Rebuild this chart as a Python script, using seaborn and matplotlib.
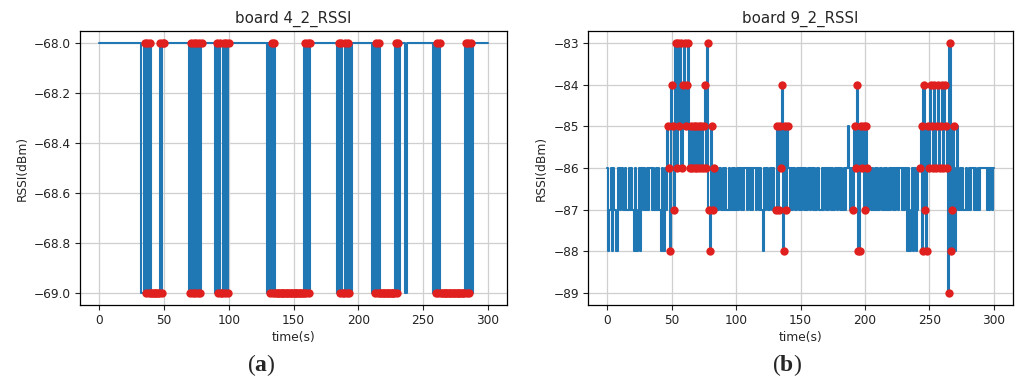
import numpy as np
import pandas as pd
import matplotlib
matplotlib.use("Agg")
import matplotlib.pyplot as plt
import seaborn as sns

# One RSSI reading per second (t = 0..300 s).
# Each character is the last digit of |RSSI|; the tens part is given by the offset.
board4_offset = 60
board4_digits = [
    "8888888888" "8888888888" "8888888888" "8889989898" "9999999898",
    "8888888888" "8888888888" "9898989898" "8888888888" "9898998989",
    "8888888888" "8888888888" "8888888888" "9898989999" "9999999999",
    "9999999998" "9898888888" "8888888888" "8888989899" "8989898888",
    "8888888888" "8989898999" "9999999998" "9898888988" "8888888888",
    "8888888898" "9898999999" "9999999999" "9998989898" "8888888888",
    "8",
]

board9_offset = 80
board9_digits = [
    "6876867886" "7667677676" "7868768676" "7676676767" "6786867568",
    "4573635364" "3543656565" "6565654637" "8576767667" "6767767676",
    "7676767667" "6767667676" "7867677676" "7757564857" "5676767767",
    "6767676676" "7676677676" "7676767667" "6767676567" "6756488565",
    "7567676767" "6766767676" "7676767667" "6768687686" "8766584785",
    "6456465465" "4645693875" "8657676776" "7676676767" "6666676767",
    "6",
]

# Time windows (s) flagged as disturbed; readings inside them are highlighted
board4_windows = [(35, 50), (70, 79), (91, 100), (132, 163), (185, 193), (213, 231), (260, 287)]
board9_windows = [(47, 83), (131, 140), (191, 202), (243, 269)]

titles = ["board 4_2_RSSI", "board 9_2_RSSI"]
captions = ["a", "b"]


def build_frame(digits, offset, windows):
    vals = np.array([int(c) for c in "".join(digits)], dtype=float)
    rssi = -(offset + vals)
    t = np.arange(len(rssi), dtype=float)
    flagged = np.zeros(len(t), dtype=bool)
    for a, b in windows:
        flagged |= (t >= a) & (t <= b)
    return pd.DataFrame({"time": t, "rssi": rssi, "flagged": flagged})


frames = [
    build_frame(board4_digits, board4_offset, board4_windows),
    build_frame(board9_digits, board9_offset, board9_windows),
]

sns.set_style("whitegrid", {
    "axes.edgecolor": "black",
    "grid.color": "#cfcfcf",
    "xtick.bottom": True,
    "ytick.left": True,
    "xtick.color": "#222222",
    "ytick.color": "#222222",
})
plt.rcParams["font.family"] = ["DejaVu Sans"]
plt.rcParams["mathtext.fontset"] = "custom"
plt.rcParams["mathtext.rm"] = "Liberation Serif"
plt.rcParams["mathtext.bf"] = "Liberation Serif:bold"

fig = plt.figure(figsize=(10.17, 3.90), dpi=100)
axes_rects = [
    [80 / 1017, 85 / 390, 427 / 1017, 274 / 390],
    [588 / 1017, 85 / 390, 425 / 1017, 274 / 390],
]
caption_x = [261 / 1017, 787 / 1017]

line_color = "#1f77b4"
mark_color = "#e0201e"

for rect, df, title, cap, cx in zip(axes_rects, frames, titles, captions, caption_x):
    ax = fig.add_axes(rect)
    sns.lineplot(data=df, x="time", y="rssi", ax=ax, color=line_color,
                 linewidth=1.5, estimator=None, sort=False, drawstyle="steps-mid")
    sel = df[df["flagged"]]
    sns.scatterplot(data=sel, x="time", y="rssi", ax=ax, color=mark_color,
                    s=36, linewidth=0, zorder=3)
    ax.set_title(title, fontsize=10.8, pad=6)
    ax.set_xlabel("time(s)", fontsize=8.8, labelpad=3)
    ax.set_ylabel("RSSI(dBm)", fontsize=8.8, labelpad=4)
    ax.tick_params(axis="both", labelsize=8.7, length=3.5, width=0.8, pad=3)
    ax.grid(True, linewidth=0.9)
    for sp in ax.spines.values():
        sp.set_linewidth(0.9)
        sp.set_color("black")
    ax.set_xticks([0, 50, 100, 150, 200, 250, 300])
    ax.margins(x=0.05, y=0.05)
    fig.text(cx, 12 / 390, "($\\mathbf{" + cap + "}$)", ha="center", va="bottom",
             fontsize=17, family="Liberation Serif")

fig.savefig("out.png", dpi=100)
